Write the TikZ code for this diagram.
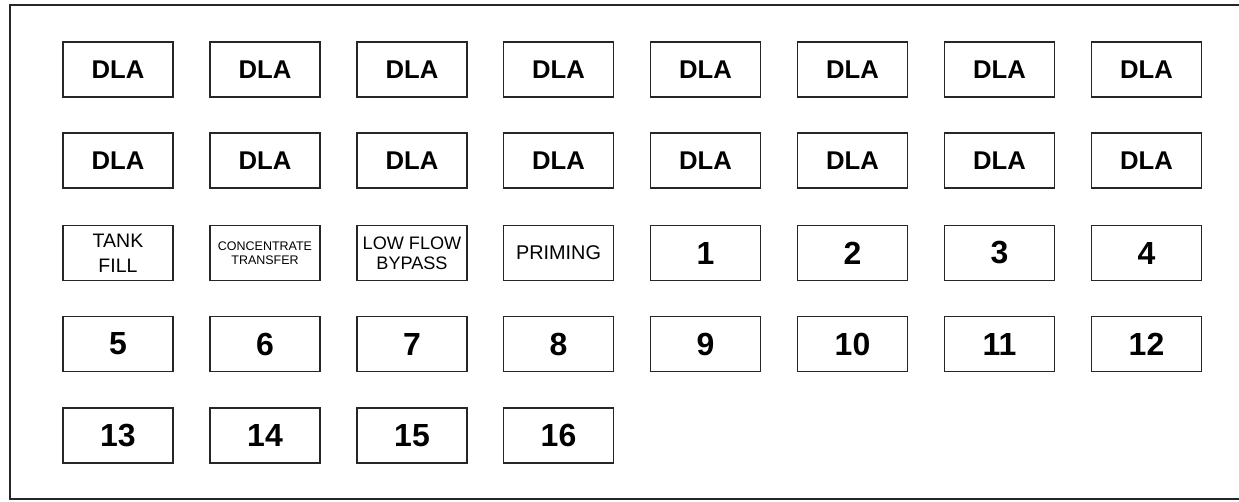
\documentclass[tikz,border=0pt]{standalone}
\usepackage{fontspec}
\setmainfont{Liberation Sans}
\setsansfont{Liberation Sans}
\tikzset{lamppanel/.style={
  font=\sffamily,
  frame/.style={draw=black!85, line width=1.1pt},
  lamp/.style={draw=black!85, line width=1.1pt, minimum width=2.2cm, minimum height=1.1cm, inner sep=0pt, align=center, font=\sffamily\bfseries\fontsize{14.6}{17}\selectfont},
  numlamp/.style={lamp, font=\sffamily\bfseries\fontsize{18.2}{21}\selectfont},
  wordlamp/.style={lamp, font=\sffamily\fontsize{11.1}{14}\selectfont},
  smalllamp/.style={lamp, font=\sffamily\fontsize{7.1}{8.1}\selectfont},
}}
\begin{document}
\begin{tikzpicture}[lamppanel]

\useasboundingbox (0,0) rectangle (24.78,-10.02);

% ---- panel outline (runs off the right edge) ----
\draw[frame] (25.2,-0.1) -- (0.2,-0.1) -- (0.2,-9.98) -- (25.2,-9.98);

% ---- row 1: DLA ----
\node[lamp] (dla1) at (2.36,-1.39)  {DLA};
\node[lamp] (dla2) at (5.30,-1.39)  {DLA};
\node[lamp] (dla3) at (8.24,-1.39)  {DLA};
\node[lamp] (dla4) at (11.17,-1.39) {DLA};
\node[lamp] (dla5) at (14.11,-1.39) {DLA};
\node[lamp] (dla6) at (17.05,-1.39) {DLA};
\node[lamp] (dla7) at (19.99,-1.39) {DLA};
\node[lamp] (dla8) at (22.93,-1.39) {DLA};

% ---- row 2: DLA ----
\node[lamp] (dla9)  at (2.36,-3.21)  {DLA};
\node[lamp] (dla10) at (5.30,-3.21)  {DLA};
\node[lamp] (dla11) at (8.24,-3.21)  {DLA};
\node[lamp] (dla12) at (11.17,-3.21) {DLA};
\node[lamp] (dla13) at (14.11,-3.21) {DLA};
\node[lamp] (dla14) at (17.05,-3.21) {DLA};
\node[lamp] (dla15) at (19.99,-3.21) {DLA};
\node[lamp] (dla16) at (22.93,-3.21) {DLA};

% ---- row 3: functions, then 1--4 ----
\node[wordlamp]  (tank)    at (2.36,-5.06)  {TANK\\FILL};
\node[smalllamp] (conc)    at (5.30,-5.06)  {CONCENTRATE\\TRANSFER};
\node[wordlamp, font=\sffamily\fontsize{10.3}{11.6}\selectfont] (lowflow) at (8.24,-5.06) {LOW FLOW\\BYPASS};
\node[wordlamp, font=\sffamily\fontsize{11.3}{14}\selectfont] (priming) at (11.17,-5.06) {PRIMING};
\node[numlamp]   (n1)      at (14.11,-5.06) {1};
\node[numlamp]   (n2)      at (17.05,-5.06) {2};
\node[numlamp]   (n3)      at (19.99,-5.06) {3};
\node[numlamp]   (n4)      at (22.93,-5.06) {4};

% ---- row 4: 5--12 ----
\node[numlamp] (n5)  at (2.36,-6.88)  {5};
\node[numlamp] (n6)  at (5.30,-6.88)  {6};
\node[numlamp] (n7)  at (8.24,-6.88)  {7};
\node[numlamp] (n8)  at (11.17,-6.88) {8};
\node[numlamp] (n9)  at (14.11,-6.88) {9};
\node[numlamp] (n10) at (17.05,-6.88) {10};
\node[numlamp] (n11) at (19.99,-6.88) {11};
\node[numlamp] (n12) at (22.93,-6.88) {12};

% ---- row 5: 13--16 ----
\node[numlamp] (n13) at (2.36,-8.71)  {13};
\node[numlamp] (n14) at (5.30,-8.71)  {14};
\node[numlamp] (n15) at (8.24,-8.71)  {15};
\node[numlamp] (n16) at (11.17,-8.71) {16};

\end{tikzpicture}
\end{document}
